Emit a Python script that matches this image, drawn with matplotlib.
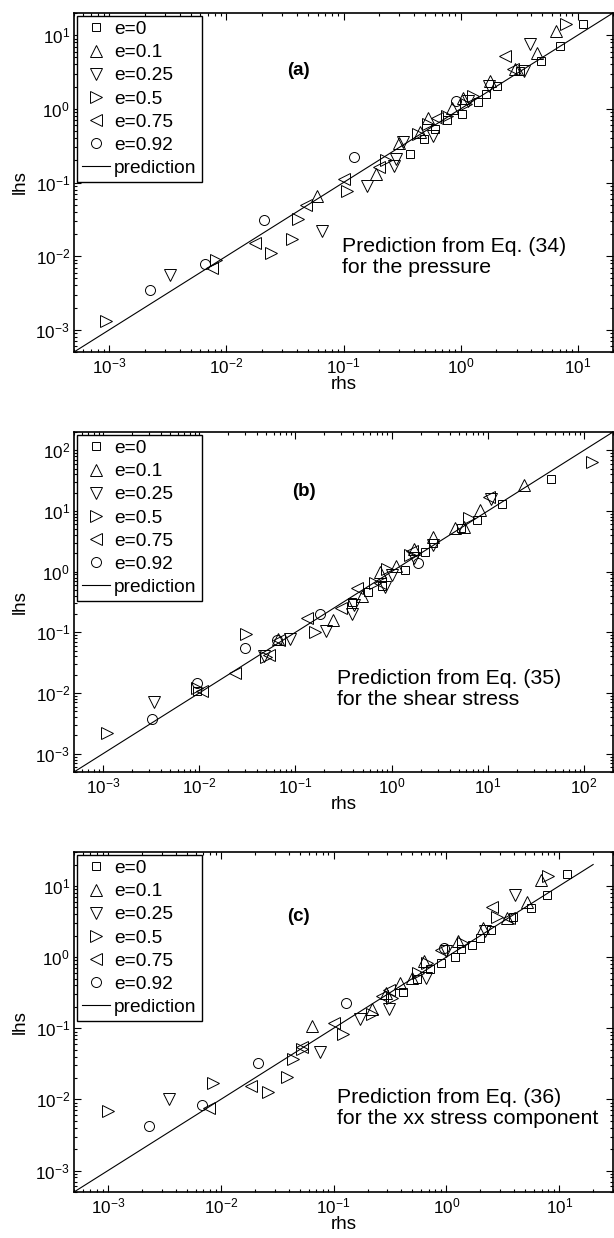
import matplotlib
matplotlib.use("Agg")
import matplotlib.pyplot as plt
from matplotlib.ticker import LogLocator, NullFormatter

plt.rcParams['font.family'] = ['Liberation Sans', 'DejaVu Sans']
plt.rcParams['mathtext.fontset'] = 'custom'
plt.rcParams['mathtext.rm'] = 'Liberation Sans'
plt.rcParams['mathtext.it'] = 'Liberation Sans:italic'
plt.rcParams['mathtext.bf'] = 'Liberation Sans:bold'

LABELS = ['e=0', 'e=0.1', 'e=0.25', 'e=0.5', 'e=0.75', 'e=0.92', 'prediction']
PANEL_TAGS = ['(a)', '(b)', '(c)']
NOTES = ['Prediction from Eq. (34)\nfor the pressure',
         'Prediction from Eq. (35)\nfor the shear stress',
         'Prediction from Eq. (36)\nfor the xx stress component']

# ---------------- panel (a) ----------------
A_E0_X = [0.37, 0.49, 0.60, 0.76, 1.02, 1.4, 1.64, 2.04, 3.2, 4.9, 7.0, 11.0]
A_E0_Y = [0.24, 0.39, 0.54, 0.71, 0.85, 1.25, 1.6, 2.05, 3.3, 4.45, 7.1, 14.0]
A_E01_X = [0.059, 0.19, 0.30, 0.45, 0.53, 0.84, 1.04, 1.77, 2.9, 4.5, 6.5]
A_E01_Y = [0.066, 0.13, 0.34, 0.48, 0.75, 1.03, 1.41, 2.4, 3.5, 5.7, 11.3]
A_E025_X = [3.3e-3, 0.066, 0.16, 0.27, 0.28, 0.32, 0.58, 1.15, 1.74, 3.5, 3.9]
A_E025_Y = [5.5e-3, 0.022, 0.089, 0.165, 0.21, 0.35, 0.43, 1.28, 2.05, 3.3, 7.6]
A_E05_X = [9.4e-4, 8.1e-3, 0.024, 0.036, 0.041, 0.107, 0.23, 0.43, 0.53, 0.76, 1.12, 1.27, 8.0]
A_E05_Y = [1.3e-3, 8.9e-3, 0.011, 0.017, 0.032, 0.076, 0.20, 0.46, 0.63, 0.80, 1.17, 1.5, 14.0]
A_E075_X = [7.6e-3, 0.0175, 0.048, 0.10, 0.20, 0.63, 2.4, 2.8]
A_E075_Y = [6.9e-3, 0.015, 0.049, 0.11, 0.16, 0.75, 5.2, 3.5]
A_E092_X = [2.24e-3, 6.6e-3, 0.021, 0.124, 0.92]
A_E092_Y = [3.5e-3, 7.8e-3, 0.031, 0.22, 1.28]
A_PRED = [5e-4, 20.0]

# ---------------- panel (b) ----------------
B_E0_X = [9.5e-3, 0.39, 0.57, 0.80, 1.37, 2.2, 2.7, 5.3, 7.7, 14.0, 45.0]
B_E0_Y = [0.011, 0.32, 0.46, 0.58, 1.05, 2.1, 2.95, 5.2, 7.1, 13.0, 34.0]
B_E01_X = [0.066, 0.245, 0.49, 0.76, 1.12, 1.7, 2.7, 4.6, 5.6, 8.3, 23.6]
B_E01_Y = [0.077, 0.16, 0.40, 0.98, 1.26, 2.4, 3.7, 5.2, 5.5, 10.4, 27.0]
B_E025_X = [3.4e-3, 0.047, 0.087, 0.21, 0.39, 0.41, 0.85, 1.02, 1.7, 2.7, 10.7]
B_E025_Y = [7.1e-3, 0.040, 0.079, 0.107, 0.20, 0.28, 0.55, 0.87, 1.7, 2.8, 16.0]
B_E05_X = [1.1e-3, 9.5e-3, 0.031, 0.049, 0.16, 0.68, 0.90, 1.55, 6.3, 120.0]
B_E05_Y = [2.2e-3, 0.012, 0.093, 0.039, 0.10, 0.64, 1.12, 1.87, 7.6, 63.0]
B_E075_X = [0.0107, 0.0235, 0.053, 0.067, 0.133, 0.30, 0.44, 0.76, 1.63, 10.4]
B_E075_Y = [0.011, 0.021, 0.042, 0.074, 0.17, 0.25, 0.53, 0.64, 2.2, 17.0]
B_E092_X = [3.2e-3, 9.5e-3, 0.030, 0.065, 0.18, 1.9]
B_E092_Y = [3.7e-3, 0.0145, 0.055, 0.074, 0.20, 1.38]
B_PRED = [5e-4, 200.0]

# ---------------- panel (c) ----------------
C_E0_X = [0.41, 0.55, 0.72, 0.89, 1.2, 1.36, 1.7, 2.0, 2.5, 3.9, 5.6, 7.8, 11.7]
C_E0_Y = [0.32, 0.49, 0.67, 0.83, 1.0, 1.3, 1.5, 1.87, 2.4, 3.7, 4.9, 7.5, 14.7]
C_E01_X = [0.065, 0.22, 0.29, 0.39, 0.50, 0.63, 1.26, 2.1, 3.45, 5.2, 6.9]
C_E01_Y = [0.108, 0.185, 0.31, 0.43, 0.51, 0.87, 1.66, 2.6, 3.55, 6.0, 12.0]
C_E025_X = [3.5e-3, 0.076, 0.17, 0.31, 0.66, 1.0, 2.2, 4.1]
C_E025_Y = [0.0102, 0.046, 0.135, 0.185, 0.51, 1.2, 2.3, 7.5]
C_E05_X = [1.0e-3, 8.5e-3, 0.026, 0.039, 0.044, 0.053, 0.12, 0.22, 0.33, 0.56, 0.68, 1.4, 2.8, 8.0]
C_E05_Y = [6.9e-3, 0.017, 0.0126, 0.0205, 0.037, 0.051, 0.083, 0.16, 0.27, 0.60, 0.83, 1.6, 3.7, 14.0]
C_E075_X = [7.9e-3, 0.0186, 0.053, 0.10, 0.27, 0.31, 0.90, 2.55, 3.6]
C_E075_Y = [7.6e-3, 0.0155, 0.054, 0.12, 0.28, 0.35, 1.25, 5.1, 3.6]
C_E092_X = [2.3e-3, 6.8e-3, 0.0214, 0.13, 0.95]
C_E092_Y = [4.2e-3, 8.3e-3, 0.032, 0.23, 1.35]
C_PRED = [5e-4, 20.0]

XLIMS = [(5e-4, 20), (5e-4, 200), (5e-4, 30)]
YLIMS = [(5e-4, 20), (5e-4, 200), (5e-4, 30)]

panels = [
    [(A_E0_X, A_E0_Y), (A_E01_X, A_E01_Y), (A_E025_X, A_E025_Y),
     (A_E05_X, A_E05_Y), (A_E075_X, A_E075_Y), (A_E092_X, A_E092_Y), A_PRED],
    [(B_E0_X, B_E0_Y), (B_E01_X, B_E01_Y), (B_E025_X, B_E025_Y),
     (B_E05_X, B_E05_Y), (B_E075_X, B_E075_Y), (B_E092_X, B_E092_Y), B_PRED],
    [(C_E0_X, C_E0_Y), (C_E01_X, C_E01_Y), (C_E025_X, C_E025_Y),
     (C_E05_X, C_E05_Y), (C_E075_X, C_E075_Y), (C_E092_X, C_E092_Y), C_PRED],
]

MARKERS = ['s', '^', 'v', '>', '<', 'o']
MSIZES = [6.0, 8.0, 8.0, 8.0, 8.0, 7.2]

W, H = 614, 1238
fig = plt.figure(figsize=(W / 100, H / 100), dpi=100)

# axes boxes in pixels: (left, top, right, bottom)
boxes = [(74, 13, 613, 352), (74, 432, 613, 772), (74, 852, 613, 1192)]
tag_pos = [(0.416, 0.829), (0.427, 0.824), (0.416, 0.809)]
note_pos = [(0.497, 0.28), (0.488, 0.244), (0.488, 0.247)]

for i, (l, t, r, b) in enumerate(boxes):
    ax = fig.add_axes([l / W, 1 - b / H, (r - l) / W, (b - t) / H])
    data = panels[i]
    handles = []
    for k in range(6):
        xs, ys = data[k]
        h, = ax.plot(xs, ys, linestyle='none', marker=MARKERS[k], ms=MSIZES[k],
                     mfc='none', mec='black', mew=0.7, label=LABELS[k])
        handles.append(h)
    px = data[6]
    h, = ax.plot(px, px, color='black', lw=0.8, label=LABELS[6])
    handles.append(h)

    ax.set_xscale('log')
    ax.set_yscale('log')
    ax.set_xlim(*XLIMS[i])
    ax.set_ylim(*YLIMS[i])
    ax.xaxis.set_major_locator(LogLocator(base=10, numticks=20))
    ax.yaxis.set_major_locator(LogLocator(base=10, numticks=20))
    ax.xaxis.set_minor_locator(LogLocator(base=10, subs=range(2, 10), numticks=20))
    ax.yaxis.set_minor_locator(LogLocator(base=10, subs=range(2, 10), numticks=20))
    ax.xaxis.set_minor_formatter(NullFormatter())
    ax.yaxis.set_minor_formatter(NullFormatter())
    ax.tick_params(which='both', direction='in', top=True, right=True,
                   labelsize=12.3, width=0.8)
    ax.tick_params(which='major', length=5, pad=3)
    ax.tick_params(which='minor', length=2.5)
    for sp in ax.spines.values():
        sp.set_linewidth(1.2)

    ax.set_xlabel('rhs', fontsize=13.5, labelpad=0)
    ax.set_ylabel('lhs', fontsize=13.5, labelpad=5)

    leg = ax.legend(handles=handles, loc='upper left', fontsize=13.8,
                    fancybox=False, framealpha=1, edgecolor='black',
                    borderaxespad=0.15, handlelength=1.5, handletextpad=0.2,
                    labelspacing=0.3, borderpad=0.25, numpoints=1)
    leg.get_frame().set_linewidth(1.0)

    ax.text(tag_pos[i][0], tag_pos[i][1], PANEL_TAGS[i], transform=ax.transAxes,
            fontsize=13.5, fontweight='bold', ha='center', va='center')
    ax.text(note_pos[i][0], note_pos[i][1], NOTES[i], transform=ax.transAxes,
            fontsize=15.3, ha='left', va='center', linespacing=1.12)

fig.savefig('out.png', dpi=100)
